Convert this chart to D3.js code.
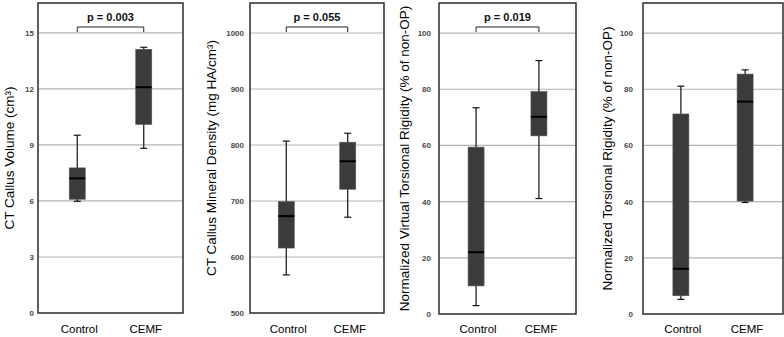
<!DOCTYPE html>
<html>
<head>
<meta charset="utf-8">
<script src="https://cdn.jsdelivr.net/npm/d3@7"></script>
<style>
  body { margin: 0; background: #fff; }
  svg { display: block; font-family: "Liberation Sans", Arial, sans-serif; }
</style>
</head>
<body>
<div id="vis"></div>
<script>
// Data
const groups = ["Control", "CEMF"];

// [lower whisker, Q1, median, Q3, upper whisker]
const volumeStats = [[5.98, 6.09, 7.21, 7.77, 9.52], [8.82, 10.1, 12.09, 14.12, 14.23]];
const densityStats = [[568, 616, 673, 699, 807], [671, 721, 771, 805, 821]];
const virtualStats = [[3, 10, 22, 59.4, 73.4], [41.1, 63.4, 70.2, 79.2, 90.2]];
const rigidityStats = [[5.2, 6.5, 16.1, 71.2, 81.1], [39.7, 40.2, 75.6, 85.4, 86.9]];

const volumeTicks = [0, 3, 6, 9, 12, 15];
const densityTicks = [500, 600, 700, 800, 900, 1000];
const percentTicks = [0, 20, 40, 60, 80, 100];

const yTitles = [
    "CT Callus Volume (cm³)",
    "CT Callus Mineral Density (mg HA/cm³)",
    "Normalized Virtual Torsional Rigidity (% of non-OP)",
    "Normalized Torsional Rigidity (% of non-OP)"
];
const pValues = ["p = 0.003", "p = 0.055", "p = 0.019", null];

// Layout
const width = 784, height = 337;
const panels = [
    { stats: volumeStats, ticks: volumeTicks, domain: [0, 16.6], x0: 38, x1: 183, bottom: 313, labX: 9, tickGap: 4 },
    { stats: densityStats, ticks: densityTicks, domain: [500, 1053.6], x0: 250, x1: 384, bottom: 313, labX: 211, tickGap: 6 },
    { stats: virtualStats, ticks: percentTicks, domain: [0, 110.7], x0: 439, x1: 576, bottom: 314, labX: 404, tickGap: 8 },
    { stats: rigidityStats, ticks: percentTicks, domain: [0, 110.7], x0: 643, x1: 783, bottom: 314, labX: 607, tickGap: 10 }
];
const plotTop = 3;
const boxW = 16, capW = 7;

const svg = d3.select("#vis").append("svg")
    .attr("width", width)
    .attr("height", height);

panels.forEach((p, i) => {
    const g = svg.append("g");

    const y = d3.scaleLinear().domain(p.domain).range([p.bottom, plotTop]);
    const x = d3.scalePoint().domain(groups).range([p.x0, p.x1]).padding(0.59);

    // gridlines
    g.selectAll(".grid")
        .data(p.ticks.filter(t => t > p.domain[0]))
        .enter().append("line")
        .attr("x1", p.x0).attr("x2", p.x1)
        .attr("y1", d => y(d)).attr("y2", d => y(d))
        .style("stroke", "#b3b3b3")
        .style("stroke-width", 1.2);

    // tick labels
    const axis = g.append("g")
        .attr("transform", "translate(" + (p.x0 - p.tickGap + 3) + ",0)")
        .call(d3.axisLeft(y).tickValues(p.ticks).tickFormat(d3.format("d")).tickSize(0).tickPadding(3));
    axis.select(".domain").remove();
    axis.selectAll("text")
        .style("font-family", "'Liberation Sans', Arial, sans-serif")
        .style("font-size", "8px")
        .style("font-weight", "bold")
        .style("fill", "#4a4a4a");

    // frame
    g.append("rect")
        .attr("x", p.x0).attr("y", plotTop)
        .attr("width", p.x1 - p.x0).attr("height", p.bottom - plotTop)
        .style("fill", "none")
        .style("stroke", "#2b2b2b")
        .style("stroke-width", 1.5);

    // boxes
    const box = g.selectAll(".box")
        .data(p.stats)
        .enter().append("g");

    box.append("line")
        .attr("x1", (d, j) => x(groups[j])).attr("x2", (d, j) => x(groups[j]))
        .attr("y1", d => y(d[0])).attr("y2", d => y(d[4]))
        .style("stroke", "#111").style("stroke-width", 1.2);

    [0, 4].forEach(k => {
        box.append("line")
            .attr("x1", (d, j) => x(groups[j]) - capW / 2)
            .attr("x2", (d, j) => x(groups[j]) + capW / 2)
            .attr("y1", d => y(d[k])).attr("y2", d => y(d[k]))
            .style("stroke", "#111").style("stroke-width", 1.2);
    });

    box.append("rect")
        .attr("x", (d, j) => x(groups[j]) - boxW / 2)
        .attr("width", boxW)
        .attr("y", d => y(d[3]))
        .attr("height", d => y(d[1]) - y(d[3]))
        .style("fill", "#3b3b3b")
        .style("stroke", "#555")
        .style("stroke-width", 0.6);

    box.append("line")
        .attr("x1", (d, j) => x(groups[j]) - boxW / 2)
        .attr("x2", (d, j) => x(groups[j]) + boxW / 2)
        .attr("y1", d => y(d[2])).attr("y2", d => y(d[2]))
        .style("stroke", "#000").style("stroke-width", 2);

    // category labels
    g.selectAll(".cat")
        .data(groups)
        .enter().append("text")
        .attr("x", d => x(d) + 2)
        .attr("y", 333)
        .attr("text-anchor", "middle")
        .style("font-size", "11.5px")
        .style("fill", "#000")
        .text(d => d);

    // y title
    g.append("text")
        .attr("transform", "translate(" + p.labX + "," + ((plotTop + p.bottom) / 2) + ")rotate(-90)")
        .attr("text-anchor", "middle")
        .attr("dominant-baseline", "central")
        .style("font-size", "13.5px")
        .style("fill", "#000")
        .text(yTitles[i]);

    // significance bracket
    if (pValues[i]) {
        const xa = x(groups[0]), xb = x(groups[1]);
        g.append("path")
            .attr("d", "M" + xa + ",32V27H" + xb + "V32")
            .style("fill", "none")
            .style("stroke", "#222")
            .style("stroke-width", 1);
        g.append("text")
            .attr("x", (xa + xb) / 2)
            .attr("y", 21)
            .attr("text-anchor", "middle")
            .style("font-size", "11px")
            .style("font-weight", "bold")
            .style("fill", "#111")
            .text(pValues[i]);
    }
});
</script>
</body>
</html>
